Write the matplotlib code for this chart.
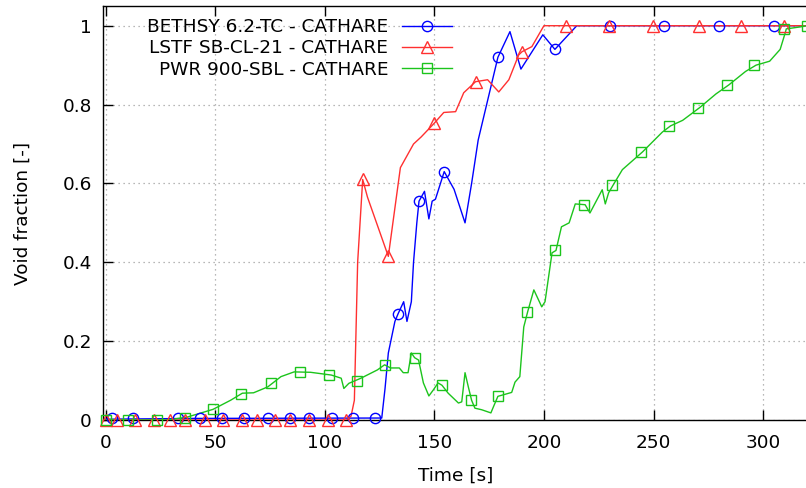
import matplotlib
matplotlib.use("Agg")
import matplotlib.pyplot as plt

# ---------------- data ----------------
bethsy_t = [0, 40, 126, 127.5, 129, 132, 133.5, 136, 137.5, 139.5, 140.5, 142, 143, 145.5,
            147.5, 149, 150.5, 154.5, 159, 164, 167, 170, 173, 179, 184.5, 189.5, 199.5,
            205, 215, 320]
bethsy_v = [0.002, 0.004, 0.005, 0.08, 0.17, 0.25, 0.27, 0.30, 0.25, 0.30, 0.40, 0.50, 0.555,
            0.58, 0.51, 0.555, 0.56, 0.63, 0.585, 0.50, 0.60, 0.71, 0.78, 0.92, 0.985, 0.89,
            0.977, 0.94, 1.0, 1.0]
bethsy_mt = [3, 12.6, 33, 43, 53, 63, 74, 84, 93, 103.5, 113, 123, 133.5, 143, 154.5, 179,
             205, 230, 255, 280, 305]
bethsy_mv = [0.004] * 12 + [0.27, 0.555, 0.63, 0.92, 0.94, 1.0, 1.0, 1.0, 1.0]

lstf_t = [0, 110, 112, 113.5, 115, 117.3, 119.5, 129, 134.5, 140.5, 144, 150, 154.3, 159.7,
          163.4, 168.8, 174.3, 179.4, 184, 188.5, 190, 194.5, 200, 320]
lstf_v = [0.0, 0.0, 0.01, 0.05, 0.40, 0.61, 0.565, 0.415, 0.64, 0.70, 0.718, 0.753, 0.78,
          0.782, 0.83, 0.858, 0.863, 0.832, 0.863, 0.926, 0.934, 0.947, 1.0, 1.0]
lstf_mt = [0, 5.3, 13.5, 22.2, 29.5, 36.3, 45.5, 53.7, 62.4, 69.2, 77.5, 84.3, 93, 101.3,
           109.5, 117.3, 129, 150, 168.8, 190, 210, 229.5, 249.6, 270.6, 290, 309.7]
lstf_mv = [0.0] * 15 + [0.61, 0.415, 0.753, 0.858, 0.934, 1.0, 1.0, 1.0, 1.0, 1.0, 1.0]

pwr_t = [0, 28, 37, 49, 57, 62.4, 67.5, 74, 80, 86, 93.5, 103, 107.5, 108.7, 111, 116.5,
         124, 127.3, 130, 134, 135.8, 138, 139.5, 141, 142.8, 145, 147.5, 149.5, 151.7,
         153.5, 156.3, 161, 162.5, 164, 165.5, 167, 168.5, 171.6, 175.8, 177, 179, 185.3,
         186.8, 189, 190.8, 192.6, 195.4, 197.5, 199, 200.5, 203.7, 205.5, 208, 211.5,
         214.3, 218.8, 221, 226.6, 228, 229.5, 231.7, 235.8, 245, 254, 257.8, 263.3, 271,
         278.5, 284.4, 292, 296.8, 303, 307.8, 310, 310.6, 317, 320]
pwr_v = [0, 0, 0.007, 0.027, 0.05, 0.068, 0.069, 0.084, 0.11, 0.122, 0.121, 0.114, 0.106,
         0.08, 0.093, 0.106, 0.127, 0.14, 0.132, 0.132, 0.12, 0.12, 0.17, 0.158, 0.152,
         0.094, 0.061, 0.076, 0.094, 0.088, 0.068, 0.043, 0.046, 0.12, 0.084, 0.05, 0.03,
         0.026, 0.018, 0.034, 0.06, 0.07, 0.096, 0.11, 0.236, 0.275, 0.33, 0.305, 0.287,
         0.30, 0.424, 0.43, 0.49, 0.50, 0.548, 0.546, 0.525, 0.584, 0.548, 0.576, 0.597,
         0.635, 0.68, 0.73, 0.746, 0.76, 0.792, 0.827, 0.85, 0.884, 0.90, 0.91, 0.94, 0.98,
         0.992, 0.997, 1.0]
pwr_mt = [0, 10.0, 23.5, 36.3, 49.1, 61.9, 75.6, 88.9, 101.7, 114.5, 127.3, 141.1, 153.5,
          166.8, 179, 192.2, 205, 218.3, 231, 244.3, 257, 270.3, 283.6, 296, 309.6, 320]
pwr_mv = [0, 0, 0, 0.005, 0.027, 0.066, 0.093, 0.122, 0.114, 0.10, 0.14, 0.158, 0.088,
          0.05, 0.06, 0.275, 0.43, 0.546, 0.597, 0.68, 0.746, 0.792, 0.85, 0.90, 0.992, 1.0]

labels = ["BETHSY 6.2-TC - CATHARE", "LSTF SB-CL-21 - CATHARE", "PWR 900-SBL - CATHARE"]
xticks = [0, 50, 100, 150, 200, 250, 300]
yticks = [0, 0.2, 0.4, 0.6, 0.8, 1.0]
ytick_labels = ["0", "0.2", "0.4", "0.6", "0.8", "1"]

# ---------------- plot ----------------
W, H = 806, 488
FS = 13.3
fig = plt.figure(figsize=(W / 100, H / 100), dpi=100)
ax = fig.add_axes([103 / W, (H - 420) / H, (808 - 103) / W, (420 - 6) / H])

blue, red, green = "#0000ff", "#ff3030", "#1cc41c"
series = [
    (bethsy_t, bethsy_v, bethsy_mt, bethsy_mv, blue, "o", 7.4),
    (lstf_t, lstf_v, lstf_mt, lstf_mv, red, "^", 8.0),
    (pwr_t, pwr_v, pwr_mt, pwr_mv, green, "s", 7.8),
]
handles = []
for (t, v, mt, mv, c, m, ms), lab in zip(series, labels):
    ax.plot(t, v, color=c, lw=1.0, zorder=3)
    ax.plot(mt, mv, linestyle="none", marker=m, ms=ms, mfc="none", mec=c, mew=1.0,
            clip_on=False, zorder=4)
    h, = ax.plot([], [], color=c, lw=1.0, marker=m, ms=ms, mfc="none", mec=c, mew=1.0)
    handles.append(h)

ax.set_xlim(-1.2, 320.5)
ax.set_ylim(0, 1.05)
ax.set_xticks(xticks)
ax.set_yticks(yticks)
ax.set_yticklabels(ytick_labels)
ax.tick_params(direction="in", length=7, width=1, labelsize=FS, top=True, right=False)
ax.tick_params(axis="x", pad=10)
ax.tick_params(axis="y", pad=8)
ax.grid(True, color="#a0a0a0", linestyle=(0, (1, 3)), lw=0.9)
ax.set_axisbelow(True)
for s in ["left", "bottom", "top"]:
    ax.spines[s].set_linewidth(1.0)
ax.spines["right"].set_visible(False)

ax.set_xlabel("Time [s]", fontsize=FS, labelpad=11)
ax.set_ylabel("Void fraction [-]", fontsize=FS, labelpad=22)

leg = ax.legend(handles, labels, loc="upper right",
                bbox_to_anchor=(461 / W, 1 - 9 / H), bbox_transform=fig.transFigure,
                markerfirst=False, frameon=False, fontsize=FS, borderpad=0,
                handlelength=2.7, handletextpad=0.75, labelspacing=0.17)

fig.savefig("out.png", dpi=100)
